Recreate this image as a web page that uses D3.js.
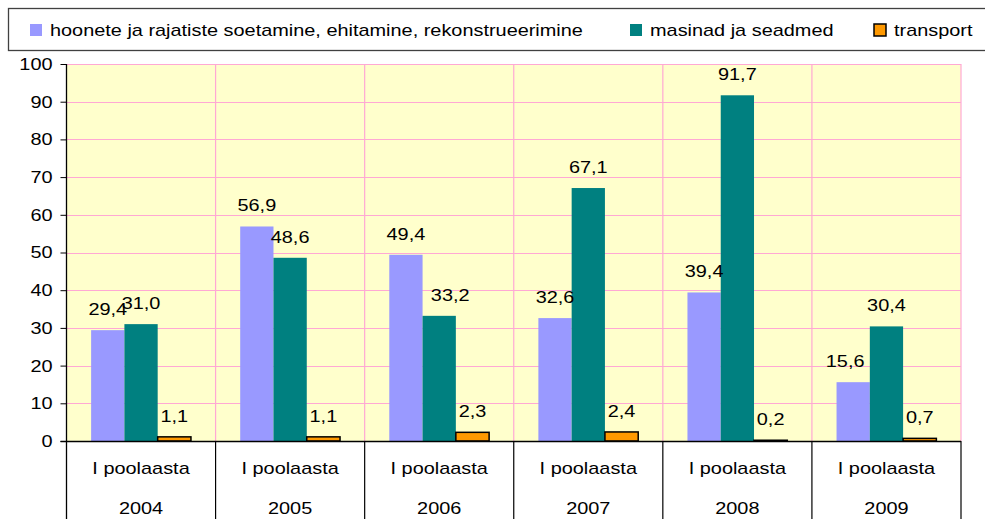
<!DOCTYPE html>
<html>
<head>
<meta charset="utf-8">
<script src="https://cdn.jsdelivr.net/npm/d3@7"></script>
<style>
  body { margin: 0; background: #fff; }
  svg text { font-family: "Liberation Sans", Arial, sans-serif; fill: #000; }
</style>
</head>
<body>
<svg id="chart" width="985" height="519"></svg>
<script>
// data
var years = ["2004", "2005", "2006", "2007", "2008", "2009"];
var periodLabel = "I poolaasta";
var seriesNames = ["hoonete ja rajatiste soetamine, ehitamine, rekonstrueerimine", "masinad ja seadmed", "transport"];
var buildings = [29.4, 56.9, 49.4, 32.6, 39.4, 15.6];
var machines = [31.0, 48.6, 33.2, 67.1, 91.7, 30.4];
var transport = [1.1, 1.1, 2.3, 2.4, 0.2, 0.7];
var yTicks = [0, 10, 20, 30, 40, 50, 60, 70, 80, 90, 100];

var colors = ["#9999FF", "#008080", "#FF9900"];
var allSeries = [buildings, machines, transport];

var svg = d3.select("#chart");
var stretch = 1.17;

// widen text a bit, the original looks horizontally stretched
function widen(sel) {
  sel.each(function() {
    var w = this.getComputedTextLength();
    d3.select(this).attr("textLength", w * stretch).attr("lengthAdjust", "spacingAndGlyphs");
  });
}

var plotL = 66.5, plotR = 961, plotT = 64, plotB = 441;

var y = d3.scaleLinear().domain([0, 100]).range([plotB, plotT]);
var x = d3.scaleBand().domain(years).range([plotL, plotR]).padding(0);
var xs = d3.scaleBand().domain([0, 1, 2]).range([0, x.bandwidth()]).paddingInner(0).paddingOuter(0.74);

// plot background
svg.append("rect")
  .attr("x", plotL).attr("y", plotT)
  .attr("width", plotR - plotL).attr("height", plotB - plotT)
  .attr("fill", "#FFFFCC");

// grid
svg.append("g").selectAll("line").data(yTicks.filter(function(d){ return d > 0; }))
  .enter().append("line")
  .attr("x1", plotL).attr("x2", plotR)
  .attr("y1", function(d){ return Math.round(y(d)) + 0.5; })
  .attr("y2", function(d){ return Math.round(y(d)) + 0.5; })
  .attr("stroke", "#FFA8D4").attr("stroke-width", 1.2);

svg.append("g").selectAll("line").data(years.slice(1).concat(["end"]))
  .enter().append("line")
  .attr("x1", function(d){ return d === "end" ? plotR : x(d); })
  .attr("x2", function(d){ return d === "end" ? plotR : x(d); })
  .attr("y1", plotT).attr("y2", plotB)
  .attr("stroke", "#FFA8D4").attr("stroke-width", 1.2);

// bars
allSeries.forEach(function(vals, s) {
  svg.append("g").selectAll("rect").data(vals)
    .enter().append("rect")
    .attr("x", function(d, i){ return x(years[i]) + xs(s); })
    .attr("width", xs.bandwidth())
    .attr("y", function(d){ return y(d); })
    .attr("height", function(d){ return plotB - y(d); })
    .attr("fill", colors[s])
    .attr("stroke", s === 2 ? "#000" : "none")
    .attr("stroke-width", s === 2 ? 1.5 : 0);
});

// value labels
var nudge = { "2006-1": 11, "2009-0": -8 };
allSeries.forEach(function(vals, s) {
  svg.append("g").selectAll("text").data(vals)
    .enter().append("text")
    .attr("x", function(d, i){
      return x(years[i]) + xs(s) + xs.bandwidth() / 2 + (nudge[years[i] + "-" + s] || 0);
    })
    .attr("y", function(d){ return y(d) - 15; })
    .attr("text-anchor", "middle")
    .attr("font-size", 17)
    .text(function(d){ return d.toFixed(1).replace(".", ","); })
    .call(widen);
});

// y axis
var yAxis = d3.axisLeft(y).tickValues(yTicks).tickSize(6).tickPadding(8);
var ya = svg.append("g").attr("transform", "translate(" + plotL + ",0)").call(yAxis);
ya.select(".domain").remove();
ya.selectAll(".tick line").attr("stroke", "#000");
ya.selectAll(".tick text").attr("font-size", 17).attr("font-family", "Liberation Sans, Arial, sans-serif").call(widen);
svg.append("line").attr("x1", plotL).attr("x2", plotL).attr("y1", plotT).attr("y2", 519)
  .attr("stroke", "#000").attr("stroke-width", 1.3);

// x axis line and separators
svg.append("line").attr("x1", plotL - 6).attr("x2", plotR).attr("y1", plotB + 0.5).attr("y2", plotB + 0.5)
  .attr("stroke", "#000").attr("stroke-width", 1.3);
svg.append("g").selectAll("line").data(years.slice(1).concat(["end"]))
  .enter().append("line")
  .attr("x1", function(d){ return d === "end" ? plotR : x(d); })
  .attr("x2", function(d){ return d === "end" ? plotR : x(d); })
  .attr("y1", plotB).attr("y2", 519)
  .attr("stroke", "#000").attr("stroke-width", 1.2);

// category labels
var cat = svg.append("g").selectAll("g").data(years).enter().append("g");
cat.append("text")
  .attr("x", function(d){ return x(d) + x.bandwidth() / 2; })
  .attr("y", 474)
  .attr("text-anchor", "middle").attr("font-size", 17)
  .text(periodLabel).call(widen);
cat.append("text")
  .attr("x", function(d){ return x(d) + x.bandwidth() / 2; })
  .attr("y", 514)
  .attr("text-anchor", "middle").attr("font-size", 17)
  .text(function(d){ return d; }).call(widen);

// legend
svg.append("rect").attr("x", 8.5).attr("y", 8.5).attr("width", 990).attr("height", 42)
  .attr("fill", "#fff").attr("stroke", "#404040").attr("stroke-width", 1.3);
var legendX = [30, 630, 874];
seriesNames.forEach(function(name, s) {
  svg.append("rect")
    .attr("x", legendX[s]).attr("y", 24)
    .attr("width", 12).attr("height", 12)
    .attr("fill", colors[s])
    .attr("stroke", s === 2 ? "#000" : "none")
    .attr("stroke-width", s === 2 ? 1.5 : 0);
  svg.append("text")
    .attr("x", legendX[s] + 20).attr("y", 36)
    .attr("font-size", 17)
    .text(name).call(widen);
});
</script>
</body>
</html>
